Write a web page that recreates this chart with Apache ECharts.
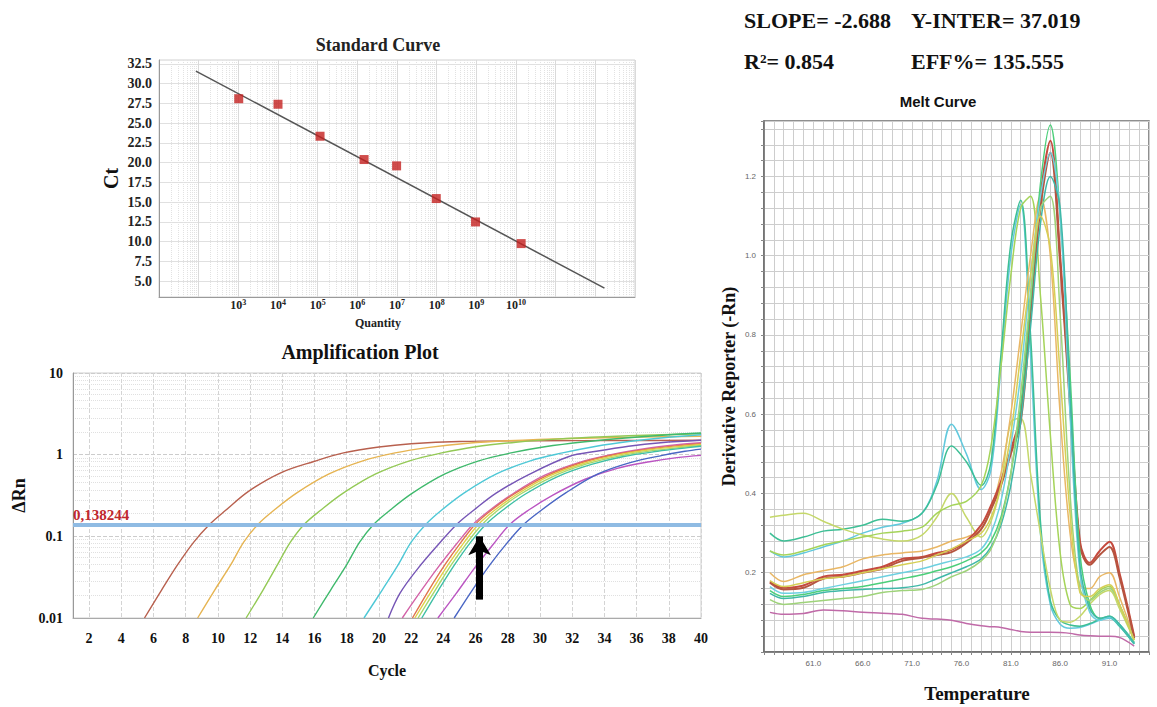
<!DOCTYPE html>
<html><head><meta charset="utf-8">
<script src="https://cdn.jsdelivr.net/npm/echarts@6/dist/echarts.min.js"></script>
<style>html,body{margin:0;padding:0;background:#fff}#c{width:1157px;height:707px}</style>
</head><body><div id="c"></div>
<script>
// ---------- Standard curve data ----------
const stdLogQuantity = [3.01, 4.0, 5.06, 6.17, 6.99, 7.99, 8.98, 10.13];
const stdCt = [28.1, 27.4, 23.35, 20.4, 19.6, 15.46, 12.5, 9.76];
const stdFitLogQ = [1.93, 12.23];
const stdFitCt = [31.6, 4.12];
const stdDecadeLabels = [3, 4, 5, 6, 7, 8, 9, 10];
const statTexts = ['SLOPE= -2.688', 'Y-INTER= 37.019', 'R²= 0.854', 'EFF%= 135.555'];

// ---------- Amplification plot data ----------
const threshold = 0.138244;
const thresholdLabel = '0,138244';
const arrowCycle = 26.25, arrowFrom = 0.0168, arrowTo = 0.1;
const ampColors = ['#b8604e','#e6b452','#93c955','#3fb96c','#4ec8d6','#7656b6','#d363a8','#e0744e','#e2d048','#a6d86a','#3fbfa5','#bb55c2','#4a66c4'];
const amp01 = [[5.44,0.01],[6.5,0.022],[7.5,0.045],[8.5,0.085],[9.46,0.139],[10.5,0.21],[11.9,0.356],[13.9,0.6],[16,0.83],[17.8,1.05],[20,1.24],[22,1.36],[25,1.45],[30,1.48],[35,1.49],[40,1.5]];
const amp02 = [[8.74,0.01],[9.8,0.022],[10.8,0.045],[11.6,0.085],[12.47,0.139],[13.5,0.21],[14.9,0.34],[16.9,0.58],[19,0.84],[21,1.05],[23,1.22],[25.5,1.38],[28,1.48],[32,1.58],[36,1.64],[40,1.68]];
const amp03 = [[11.75,0.01],[12.8,0.022],[13.7,0.045],[14.5,0.085],[15.34,0.139],[16.4,0.21],[17.8,0.34],[19.8,0.58],[21.9,0.84],[23.9,1.05],[26,1.25],[28.5,1.42],[31,1.55],[34,1.66],[37,1.74],[40,1.8]];
const amp04 = [[15.92,0.01],[17,0.022],[18,0.045],[18.8,0.085],[19.65,0.139],[20.7,0.21],[22.1,0.34],[24.1,0.58],[26.2,0.84],[28.2,1.05],[30.3,1.25],[32.8,1.44],[35.3,1.6],[37.8,1.74],[40,1.84]];
const amp05 = [[19.07,0.01],[20.2,0.022],[21.2,0.045],[22,0.085],[22.89,0.139],[23.9,0.21],[25.3,0.34],[27.3,0.58],[29.4,0.84],[31.4,1.05],[33.5,1.27],[35.5,1.45],[37.5,1.6],[40,1.75]];
const amp06 = [[20.59,0.01],[21.3,0.02],[22.4,0.04],[23.7,0.08],[24.81,0.139],[25.9,0.21],[27.3,0.34],[29.3,0.57],[31.8,0.95],[33.5,1.1],[35.5,1.27],[37.5,1.4],[40,1.5]];
const amp07 = [[21.45,0.01],[22.5,0.02],[23.6,0.04],[24.8,0.08],[25.82,0.139],[26.9,0.21],[28.3,0.33],[30.3,0.56],[32.4,0.8],[34.4,1.0],[36.5,1.18],[38.5,1.32],[40,1.4]];
const amp08 = [[22.08,0.01],[23.1,0.022],[24.1,0.045],[25.1,0.085],[25.96,0.139],[27,0.21],[28.4,0.33],[30.4,0.55],[32.5,0.79],[34.5,0.99],[36.6,1.16],[38.6,1.29],[40,1.36]];
const amp09 = [[22.23,0.01],[23.3,0.022],[24.3,0.045],[25.3,0.085],[26.16,0.139],[27.2,0.21],[28.6,0.33],[30.6,0.55],[32.7,0.78],[34.7,0.98],[36.8,1.15],[38.8,1.27],[40,1.33]];
const amp10 = [[22.43,0.01],[23.5,0.022],[24.5,0.045],[25.5,0.085],[26.39,0.139],[27.4,0.21],[28.8,0.33],[30.8,0.54],[32.9,0.77],[34.9,0.96],[37,1.12],[39,1.24],[40,1.3]];
const amp11 = [[22.66,0.01],[23.7,0.022],[24.7,0.045],[25.7,0.085],[26.62,0.139],[27.7,0.21],[29.1,0.33],[31.1,0.54],[33.2,0.76],[35.2,0.95],[37.3,1.1],[39.2,1.22],[40,1.27]];
const amp12 = [[23.66,0.01],[24.8,0.02],[25.9,0.04],[27.1,0.08],[28.11,0.139],[29.3,0.21],[30.8,0.32],[32.8,0.5],[34.8,0.68],[36.8,0.82],[38.5,0.92],[40,0.98]];
const amp13 = [[24.67,0.01],[25.8,0.022],[26.9,0.045],[28,0.085],[28.97,0.139],[30.1,0.21],[31.6,0.34],[33.6,0.58],[35.6,0.8],[37.6,0.98],[39,1.1],[40,1.17]];
const ampCurves = [amp01,amp02,amp03,amp04,amp05,amp06,amp07,amp08,amp09,amp10,amp11,amp12,amp13];

// ---------- Melt curve data ----------
const meltTemps = [56.6,58,60,62,64,66,68,70,72,73.5,75,76.5,78,79,80,81,82,83,84,85,86,87,88,89,90,91,92,93.5];
const melt01 = [0.255,0.24,0.25,0.265,0.28,0.30,0.315,0.325,0.35,0.43,0.575,0.50,0.41,0.46,0.72,1.0,1.13,0.75,0.3,0.12,0.07,0.06,0.062,0.07,0.08,0.085,0.065,0.02];
const melt02 = [0.30,0.28,0.29,0.305,0.31,0.32,0.335,0.33,0.35,0.42,0.52,0.48,0.42,0.48,0.75,1.03,1.14,0.8,0.33,0.13,0.08,0.068,0.065,0.072,0.082,0.088,0.066,0.02];
const melt03 = [0.34,0.345,0.35,0.33,0.31,0.295,0.285,0.28,0.295,0.34,0.40,0.34,0.29,0.33,0.42,0.58,0.59,0.45,0.3,0.16,0.08,0.075,0.09,0.12,0.145,0.155,0.11,0.03];
const melt04 = [0.255,0.245,0.255,0.27,0.28,0.29,0.30,0.305,0.315,0.35,0.37,0.38,0.42,0.52,0.72,0.95,1.12,1.15,0.9,0.55,0.25,0.12,0.11,0.13,0.155,0.165,0.12,0.03];
const melt05 = [0.20,0.178,0.195,0.205,0.215,0.235,0.245,0.25,0.255,0.265,0.28,0.29,0.31,0.36,0.45,0.6,0.8,1.0,1.15,1.0,0.6,0.3,0.17,0.16,0.19,0.2,0.14,0.035];
const melt06 = [0.178,0.162,0.168,0.19,0.195,0.205,0.215,0.235,0.24,0.25,0.258,0.28,0.32,0.37,0.43,0.51,0.6,0.88,1.15,1.29,1.0,0.64,0.28,0.225,0.255,0.278,0.2,0.04];
const melt07 = [0.175,0.158,0.162,0.185,0.19,0.2,0.21,0.23,0.238,0.245,0.252,0.275,0.31,0.36,0.42,0.5,0.58,0.85,1.12,1.26,0.98,0.62,0.27,0.22,0.245,0.265,0.19,0.035];
const melt08 = [0.155,0.14,0.145,0.155,0.16,0.165,0.175,0.185,0.195,0.205,0.215,0.23,0.25,0.28,0.34,0.45,0.62,0.88,1.18,1.33,1.1,0.7,0.25,0.12,0.085,0.09,0.07,0.025];
const melt09 = [0.165,0.148,0.15,0.16,0.17,0.18,0.19,0.2,0.21,0.22,0.23,0.24,0.26,0.3,0.38,0.52,0.7,0.95,1.15,1.26,1.1,0.6,0.2,0.1,0.08,0.088,0.07,0.022];
const melt10 = [0.148,0.135,0.14,0.15,0.155,0.158,0.16,0.162,0.17,0.185,0.2,0.215,0.235,0.265,0.32,0.42,0.58,0.82,1.08,1.2,1.12,0.65,0.22,0.11,0.085,0.09,0.07,0.022];
const melt11 = [0.132,0.12,0.125,0.13,0.135,0.14,0.15,0.155,0.158,0.17,0.19,0.205,0.23,0.26,0.33,0.45,0.65,0.9,1.12,1.15,0.85,0.4,0.16,0.13,0.15,0.16,0.12,0.03];
const melt12 = [0.18,0.165,0.175,0.185,0.19,0.2,0.21,0.22,0.23,0.245,0.26,0.28,0.3,0.34,0.42,0.55,0.75,0.95,1.1,1.02,0.7,0.35,0.15,0.14,0.16,0.17,0.12,0.03];
const melt13 = [0.10,0.095,0.097,0.106,0.104,0.1,0.098,0.095,0.085,0.083,0.08,0.072,0.066,0.064,0.062,0.057,0.052,0.05,0.05,0.05,0.049,0.047,0.043,0.041,0.04,0.04,0.037,0.015];
const meltCurves = [melt01,melt02,melt03,melt04,melt05,melt06,melt07,melt08,melt09,melt10,melt11,melt12,melt13];
const meltColors = ['#62c9dd','#3dbf95','#c5d86a','#a5d45a','#e9b765','#c54a3e','#b5543f','#4ccf7a','#6dd0e0','#3fb8a8','#9fd37a','#d6cf55','#c06aa8'];

// ---------- helpers ----------
const SERIF = "'Liberation Serif','DejaVu Serif',serif";
const SANS = "'Liberation Sans','DejaVu Sans',sans-serif";
const isMult = (v, m) => Math.abs(v / m - Math.round(v / m)) < 1e-6;
const T = 'rgba(0,0,0,0)';

const stdMinorLines = [];
for (let n = 1; n < 13; n++) for (let k = 2; k <= 9; k++) stdMinorLines.push({ xAxis: n + Math.log10(k) });

const chart = echarts.init(document.getElementById('c'), null, { renderer: 'svg' });

const series = [];
// Standard curve
series.push({
  type: 'line', xAxisIndex: 0, yAxisIndex: 0, silent: true,
  data: stdFitLogQ.map((x, i) => [x, stdFitCt[i]]),
  showSymbol: false, lineStyle: { color: '#555', width: 1.5 }, z: 3,
  markLine: { silent: true, symbol: ['none', 'none'], label: { show: false },
    lineStyle: { color: '#e2e2e2', type: 'dotted', width: 1 }, data: stdMinorLines, z: 1 }
});
series.push({
  type: 'scatter', xAxisIndex: 0, yAxisIndex: 0, symbol: 'rect', symbolSize: 9,
  itemStyle: { color: '#c4201f' }, z: 4,
  data: stdLogQuantity.map((x, i) => [x, stdCt[i]])
});
// Amplification curves
ampCurves.forEach((c, i) => series.push({
  type: 'line', xAxisIndex: 1, yAxisIndex: 1, data: c, smooth: 0.35, showSymbol: false,
  lineStyle: { color: ampColors[i], width: 1.4 }, z: 2
}));
// threshold + arrow
series.push({
  type: 'line', xAxisIndex: 1, yAxisIndex: 1, data: [], z: 6,
  markLine: {
    silent: true, symbol: ['none', 'none'], animation: false,
    data: [
      { yAxis: threshold, lineStyle: { color: '#8fbbe3', width: 4, type: 'solid' },
        label: { show: true, position: 'insideStartTop', formatter: thresholdLabel, color: '#c0282d',
          fontFamily: SERIF, fontWeight: 'bold', fontSize: 15, distance: [0, 2] } },
      [ { coord: [arrowCycle, arrowFrom], symbol: 'none' },
        { coord: [arrowCycle, arrowTo], symbol: 'arrow', symbolSize: [17, 19],
          lineStyle: { color: '#000', width: 7, type: 'solid' }, label: { show: false } } ]
    ]
  }
});
// Melt curves
meltCurves.forEach((c, i) => series.push({
  type: 'line', xAxisIndex: 2, yAxisIndex: 2, data: meltTemps.map((t, j) => [t, c[j]]),
  smooth: 0.35, showSymbol: false,
  lineStyle: { color: meltColors[i], width: (i === 5 || i === 6) ? 2 : 1.5 }, z: 2
}));

const option = {
  animation: false,
  backgroundColor: '#fff',
  grid: [
    { left: 159, top: 60, width: 476, height: 237, show: true, borderColor: '#d0d0d0', borderWidth: 1, backgroundColor: '#fff' },
    { left: 73, top: 373, width: 628, height: 245, show: true, borderColor: '#cfcfcf', borderWidth: 1, backgroundColor: '#fff' },
    { left: 764, top: 121, width: 385, height: 531, show: true, borderColor: '#6b6b6b', borderWidth: 1.5, backgroundColor: '#fff' }
  ],
  xAxis: [
    { gridIndex: 0, type: 'value', min: 1, max: 13, interval: 1,
      axisLine: { show: true, lineStyle: { color: '#9a9a9a' } }, axisTick: { show: false },
      axisLabel: { margin: 1, color: '#222',
        formatter: v => stdDecadeLabels.includes(v) ? '{b|10}{s|' + v + '}' : '',
        rich: {
          b: { fontFamily: SERIF, fontWeight: 'bold', fontSize: 12, color: '#222' },
          s: { fontFamily: SERIF, fontWeight: 'bold', fontSize: 8, color: '#222', verticalAlign: 'bottom', padding: [0, 0, 6, 0] }
        } },
      splitLine: { show: true, lineStyle: { color: '#dadada', width: 1 } } },
    { gridIndex: 1, type: 'value', min: 1, max: 40, interval: 1,
      axisLine: { show: true, lineStyle: { color: '#aaa' } }, axisTick: { show: false },
      axisLabel: { margin: 13, color: '#111', fontFamily: SERIF, fontWeight: 'bold', fontSize: 14,
        formatter: v => (v % 2 === 0) ? String(v) : '' },
      splitLine: { show: true, lineStyle: { color: [T, '#d4d4d4'], type: 'dashed', width: 1 } },
      name: 'Cycle', nameLocation: 'middle', nameGap: 44,
      nameTextStyle: { fontFamily: SERIF, fontWeight: 'bold', fontSize: 16, color: '#111' } },
    { gridIndex: 2, type: 'value', min: 56, max: 95, interval: 1,
      axisLine: { show: true, lineStyle: { color: '#6b6b6b', width: 1.5 } },
      axisTick: { show: true, length: 3, lineStyle: { color: '#888' } },
      axisLabel: { margin: 7, color: '#666', fontFamily: SANS, fontSize: 8,
        formatter: v => (v >= 61 && (v - 61) % 5 === 0) ? v.toFixed(1) : '' },
      splitLine: { show: true, lineStyle: { color: '#cdcdcd', width: 1 } } }
  ],
  yAxis: [
    { gridIndex: 0, type: 'value', min: 3, max: 33, interval: 0.5,
      axisLine: { show: true, lineStyle: { color: '#9a9a9a' } }, axisTick: { show: false },
      axisLabel: { margin: 7, color: '#222', fontFamily: SERIF, fontWeight: 'bold', fontSize: 14,
        formatter: v => (isMult(v, 2.5) && v >= 5 && v <= 32.5) ? v.toFixed(1) : '' },
      splitLine: { show: true, lineStyle: { color: [T, T, T, T, '#e0e0e0'], width: 1 } },
      name: 'Ct', nameLocation: 'middle', nameGap: 38,
      nameTextStyle: { fontFamily: SERIF, fontWeight: 'bold', fontSize: 20, color: '#111' } },
    { gridIndex: 1, type: 'log', logBase: 10, min: 0.01, max: 10,
      axisLine: { show: true, lineStyle: { color: '#999' } }, axisTick: { show: false },
      axisLabel: { margin: 10, color: '#111', fontFamily: SERIF, fontWeight: 'bold', fontSize: 14,
        formatter: v => v >= 1 ? String(Math.round(v)) : String(+v.toPrecision(1)) },
      splitLine: { show: true, lineStyle: { color: '#cccccc', type: 'dashed' } },
      minorTick: { show: false, splitNumber: 10 },
      minorSplitLine: { show: true, lineStyle: { color: '#e0e0e0', type: 'dotted' } },
      name: 'ΔRn', nameLocation: 'middle', nameGap: 44,
      nameTextStyle: { fontFamily: SERIF, fontWeight: 'bold', fontSize: 18, color: '#111' } },
    { gridIndex: 2, type: 'value', min: 0, max: 1.34, interval: 0.04,
      axisLine: { show: true, lineStyle: { color: '#6b6b6b', width: 1.5 } },
      axisTick: { show: true, length: 3, lineStyle: { color: '#888' } },
      axisLabel: { margin: 8, color: '#666', fontFamily: SANS, fontSize: 8,
        formatter: v => (isMult(v, 0.2) && v > 0.1) ? v.toFixed(1) : '' },
      splitLine: { show: true, lineStyle: { color: '#cdcdcd', width: 1 } },
      name: 'Derivative Reporter (-Rn)', nameLocation: 'middle', nameGap: 26,
      nameTextStyle: { fontFamily: SERIF, fontWeight: 'bold', fontSize: 18, color: '#111' } }
  ],
  graphic: [
    { type: 'text', x: 744, y: 20, style: { text: statTexts[0], font: `bold 22px ${SERIF}`, fill: '#111', textVerticalAlign: 'middle' } },
    { type: 'text', x: 911, y: 20, style: { text: statTexts[1], font: `bold 22px ${SERIF}`, fill: '#111', textVerticalAlign: 'middle' } },
    { type: 'text', x: 744, y: 61, style: { text: statTexts[2], font: `bold 22px ${SERIF}`, fill: '#111', textVerticalAlign: 'middle' } },
    { type: 'text', x: 911, y: 61, style: { text: statTexts[3], font: `bold 22px ${SERIF}`, fill: '#111', textVerticalAlign: 'middle' } },
    { type: 'text', x: 378, y: 45, style: { text: 'Standard Curve', font: `bold 18px ${SERIF}`, fill: '#222', textAlign: 'center', textVerticalAlign: 'middle' } },
    { type: 'text', x: 378, y: 323, style: { text: 'Quantity', font: `bold 12px ${SERIF}`, fill: '#222', textAlign: 'center', textVerticalAlign: 'middle' } },
    { type: 'text', x: 360, y: 352, style: { text: 'Amplification Plot', font: `bold 20px ${SERIF}`, fill: '#111', textAlign: 'center', textVerticalAlign: 'middle' } },
    { type: 'text', x: 938, y: 101, style: { text: 'Melt Curve', font: `bold 15px ${SANS}`, fill: '#111', textAlign: 'center', textVerticalAlign: 'middle' } },
    { type: 'text', x: 977, y: 693, style: { text: 'Temperature', font: `bold 19px ${SERIF}`, fill: '#111', textAlign: 'center', textVerticalAlign: 'middle' } }
  ],
  series
};
chart.setOption(option);
</script>
</body></html>
